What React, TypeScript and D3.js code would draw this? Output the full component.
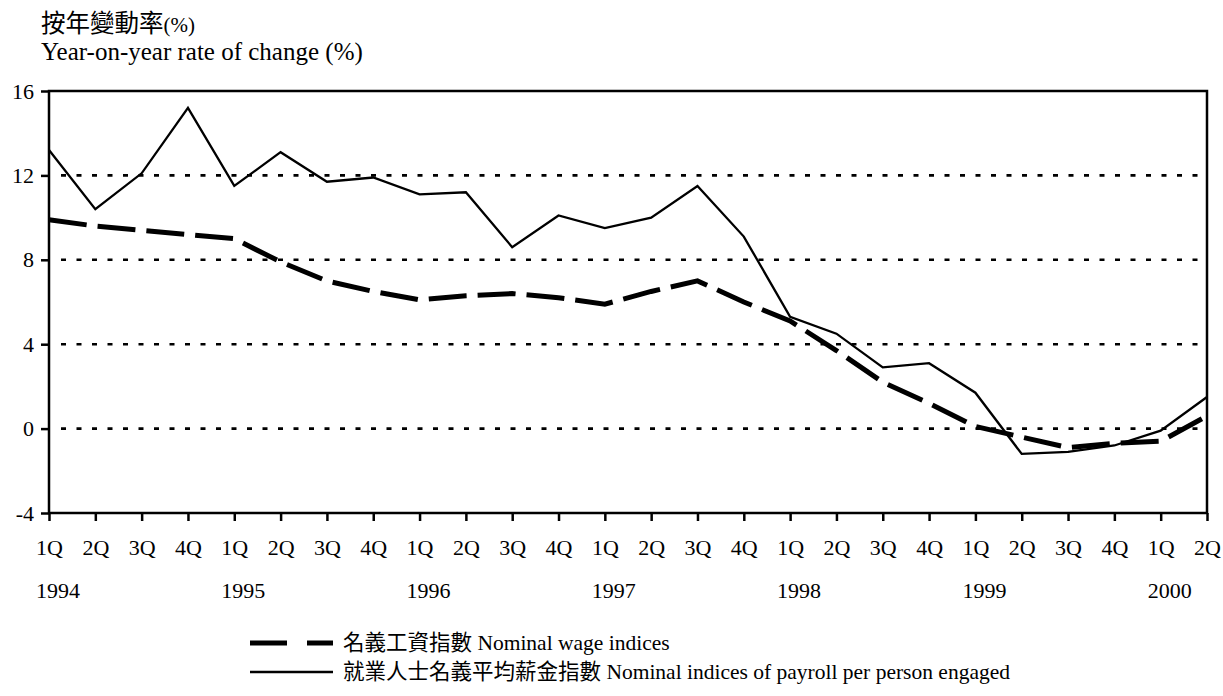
import React, { useEffect, useRef } from "react";
import * as d3 from "d3";

// quarter labels along the x axis, 1Q 1994 .. 2Q 2000
const quarters = [
  "1Q", "2Q", "3Q", "4Q",
  "1Q", "2Q", "3Q", "4Q",
  "1Q", "2Q", "3Q", "4Q",
  "1Q", "2Q", "3Q", "4Q",
  "1Q", "2Q", "3Q", "4Q",
  "1Q", "2Q", "3Q", "4Q",
  "1Q", "2Q",
];
const years = ["1994", "1995", "1996", "1997", "1998", "1999", "2000"];

// 名義工資指數 Nominal wage indices
const wageIndices = [
  9.9, 9.6, 9.4, 9.2, 9.0, 7.9, 7.0, 6.5, 6.1, 6.3, 6.4, 6.2, 5.9, 6.5, 7.0, 6.0,
  5.1, 3.7, 2.2, 1.2, 0.1, -0.4, -0.9, -0.7, -0.6, 0.6,
];
// 就業人士名義平均薪金指數 Nominal indices of payroll per person engaged
const payrollIndices = [
  13.2, 10.4, 12.1, 15.2, 11.5, 13.1, 11.7, 11.9, 11.1, 11.2, 8.6, 10.1, 9.5, 10.0,
  11.5, 9.1, 5.3, 4.5, 2.9, 3.1, 1.7, -1.2, -1.1, -0.8, -0.1, 1.5,
];

const yTicks = [16, 12, 8, 4, 0, -4];
const gridValues = [12, 8, 4, 0];

const FONT = "'Liberation Serif', 'Noto Sans CJK TC', serif";
const CJK = "'Noto Sans CJK TC', sans-serif";

const Chart = () => {
  const svgRef = useRef<SVGSVGElement>(null);

  useEffect(() => {
    const svg = d3.select(svgRef.current);
    svg.selectAll("*").remove();

    const left = 49;
    const right = 1207;
    const top = 91;
    const bottom = 513;

    const x = d3
      .scaleLinear()
      .domain([0, quarters.length - 1])
      .range([left, right]);
    const y = d3.scaleLinear().domain([-4, 16]).range([bottom, top]);

    // titles
    const t1 = svg
      .append("text")
      .attr("x", 41)
      .attr("y", 32)
      .attr("font-family", CJK)
      .attr("font-size", 24.5);
    t1.append("tspan").text("按年變動率");
    t1.append("tspan").attr("font-family", FONT).attr("font-size", 21).text("(%)");
    svg
      .append("text")
      .attr("x", 41)
      .attr("y", 60)
      .attr("font-family", FONT)
      .attr("font-size", 25)
      .text("Year-on-year rate of change (%)");

    // dotted gridlines
    svg
      .append("g")
      .selectAll("line")
      .data(gridValues)
      .join("line")
      .attr("x1", left + 12)
      .attr("x2", right - 2)
      .attr("y1", (d) => y(d))
      .attr("y2", (d) => y(d))
      .attr("stroke", "#000")
      .attr("stroke-width", 2.6)
      .attr("stroke-dasharray", "5,10.5");

    // frame
    svg
      .append("rect")
      .attr("x", left)
      .attr("y", top)
      .attr("width", right - left)
      .attr("height", bottom - top)
      .attr("fill", "none")
      .attr("stroke", "#000")
      .attr("stroke-width", 2.5);

    // y axis
    const yAxis = svg
      .append("g")
      .attr("transform", `translate(${left},0)`)
      .call(
        d3
          .axisLeft(y)
          .tickValues(yTicks)
          .tickSize(8)
          .tickPadding(7)
          .tickFormat((d) => String(d))
      );
    yAxis.select(".domain").remove();
    yAxis.selectAll("line").attr("stroke-width", 2.5);
    yAxis
      .selectAll("text")
      .attr("font-family", FONT)
      .attr("font-size", 22)
      .attr("fill", "#000");

    // x axis
    const xAxis = svg
      .append("g")
      .attr("transform", `translate(0,${bottom})`)
      .call(
        d3
          .axisBottom(x)
          .tickValues(d3.range(quarters.length))
          .tickSize(8)
          .tickPadding(18)
          .tickFormat((i) => quarters[i as number])
      );
    xAxis.select(".domain").remove();
    xAxis.selectAll("line").attr("stroke-width", 2.5);
    xAxis
      .selectAll("text")
      .attr("font-family", FONT)
      .attr("font-size", 22)
      .attr("fill", "#000");

    // year labels under each 1Q
    svg
      .append("g")
      .selectAll("text")
      .data(years)
      .join("text")
      .attr("x", (_, i) => x(i * 4) - 13)
      .attr("y", 598)
      .attr("font-family", FONT)
      .attr("font-size", 22)
      .text((d) => d);

    const line = d3
      .line<number>()
      .x((_, i) => x(i))
      .y((d) => y(d));

    svg
      .append("path")
      .datum(payrollIndices)
      .attr("d", line)
      .attr("fill", "none")
      .attr("stroke", "#000")
      .attr("stroke-width", 2.3);

    svg
      .append("path")
      .datum(wageIndices)
      .attr("d", line)
      .attr("fill", "none")
      .attr("stroke", "#000")
      .attr("stroke-width", 5)
      .attr("stroke-dasharray", "38,11");

    // legend
    const legend = svg.append("g");
    legend
      .append("line")
      .attr("x1", 250)
      .attr("x2", 333)
      .attr("y1", 643)
      .attr("y2", 643)
      .attr("stroke", "#000")
      .attr("stroke-width", 5)
      .attr("stroke-dasharray", "37,20");
    legend
      .append("text")
      .attr("x", 343)
      .attr("y", 650)
      .attr("font-family", FONT)
      .attr("font-size", 21.5)
      .text("名義工資指數 Nominal wage indices");
    legend
      .append("line")
      .attr("x1", 250)
      .attr("x2", 333)
      .attr("y1", 672)
      .attr("y2", 672)
      .attr("stroke", "#000")
      .attr("stroke-width", 2.3);
    legend
      .append("text")
      .attr("x", 343)
      .attr("y", 679)
      .attr("font-family", FONT)
      .attr("font-size", 21.5)
      .text("就業人士名義平均薪金指數 Nominal indices of payroll per person engaged");
  }, []);

  return (
    <svg
      ref={svgRef}
      width={1223}
      height={696}
      style={{ position: "absolute", left: 0, top: 0, background: "#fff" }}
    ></svg>
  );
};

export default function App() {
  return <Chart />;
}
